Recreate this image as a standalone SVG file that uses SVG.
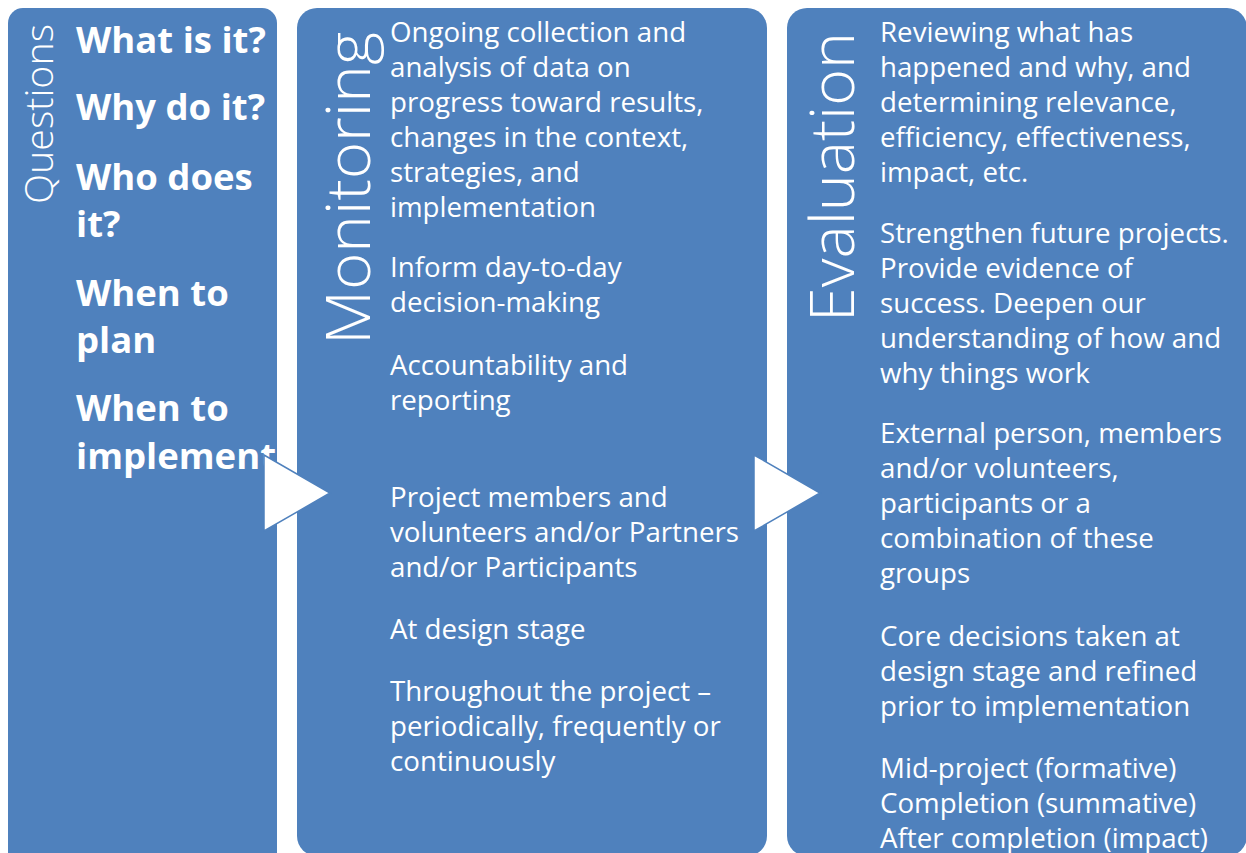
<svg xmlns="http://www.w3.org/2000/svg" width="1246" height="853" viewBox="0 0 1246 853">
<style>
.box{fill:#4F81BD}
.t{fill:#fff;font-family:"Open Sans","Liberation Sans",sans-serif;font-size:27.7px}
.b{fill:#fff;font-family:"Open Sans","Liberation Sans",sans-serif;font-size:36.5px;font-weight:bold}
.v{fill:#fff;font-family:"Open Sans","Liberation Sans",sans-serif;font-weight:300}
.arrow{fill:#fff;stroke:#4F81BD;stroke-width:1.5}
</style>
<rect width="1246" height="853" fill="#fff"/>
<g id="questions">
<rect class="box" x="8" y="8" width="269" height="880" rx="15"/>
<text class="v" font-size="38" transform="translate(53,204) rotate(-90)" textLength="180" lengthAdjust="spacingAndGlyphs">Questions</text>
<text class="b" x="76" y="53">What is it?</text>
<text class="b" x="76" y="120">Why do it?</text>
<text class="b" x="76" y="190">Who does</text>
<text class="b" x="76" y="237">it?</text>
<text class="b" x="76" y="306">When to</text>
<text class="b" x="76" y="353">plan</text>
<text class="b" x="76" y="421">When to</text>
<text class="b" x="76" y="469">implement</text>
</g>
<g id="monitoring">
<rect class="box" x="297" y="8" width="470" height="848" rx="20"/>
<text class="v" font-size="60" transform="translate(370,345) rotate(-90)" textLength="313" lengthAdjust="spacingAndGlyphs">Monitoring</text>
<text class="t" x="390" y="42">Ongoing collection and</text>
<text class="t" x="390" y="77">analysis of data on</text>
<text class="t" x="390" y="112">progress toward results,</text>
<text class="t" x="390" y="147">changes in the context,</text>
<text class="t" x="390" y="182">strategies, and</text>
<text class="t" x="390" y="217">implementation</text>
<text class="t" x="390" y="277">Inform day-to-day</text>
<text class="t" x="390" y="312">decision-making</text>
<text class="t" x="390" y="375">Accountability and</text>
<text class="t" x="390" y="410">reporting</text>
<text class="t" x="390" y="507">Project members and</text>
<text class="t" x="390" y="542">volunteers and/or Partners</text>
<text class="t" x="390" y="577">and/or Participants</text>
<text class="t" x="390" y="639">At design stage</text>
<text class="t" x="390" y="701">Throughout the project –</text>
<text class="t" x="390" y="736">periodically, frequently or</text>
<text class="t" x="390" y="771">continuously</text>
</g>
<g id="evaluation">
<rect class="box" x="787" y="8" width="460" height="848" rx="20"/>
<text class="v" font-size="61" transform="translate(854,322) rotate(-90)" textLength="290" lengthAdjust="spacingAndGlyphs">Evaluation</text>
<text class="t" x="880" y="42">Reviewing what has</text>
<text class="t" x="880" y="77">happened and why, and</text>
<text class="t" x="880" y="112">determining relevance,</text>
<text class="t" x="880" y="147">efficiency, effectiveness,</text>
<text class="t" x="880" y="182">impact, etc.</text>
<text class="t" x="880" y="243">Strengthen future projects.</text>
<text class="t" x="880" y="278">Provide evidence of</text>
<text class="t" x="880" y="313">success. Deepen our</text>
<text class="t" x="880" y="348">understanding of how and</text>
<text class="t" x="880" y="383">why things work</text>
<text class="t" x="880" y="443">External person, members</text>
<text class="t" x="880" y="478">and/or volunteers,</text>
<text class="t" x="880" y="513">participants or a</text>
<text class="t" x="880" y="548">combination of these</text>
<text class="t" x="880" y="583">groups</text>
<text class="t" x="880" y="646">Core decisions taken at</text>
<text class="t" x="880" y="681">design stage and refined</text>
<text class="t" x="880" y="716">prior to implementation</text>
<text class="t" x="880" y="778">Mid-project (formative)</text>
<text class="t" x="880" y="813">Completion (summative)</text>
<text class="t" x="880" y="848">After completion (impact)</text>
</g>
<g id="connectors">
<polygon class="arrow" points="264,455 330,493 264,531"/>
<polygon class="arrow" points="754,455 820,493 754,531"/>
</g>
</svg>
